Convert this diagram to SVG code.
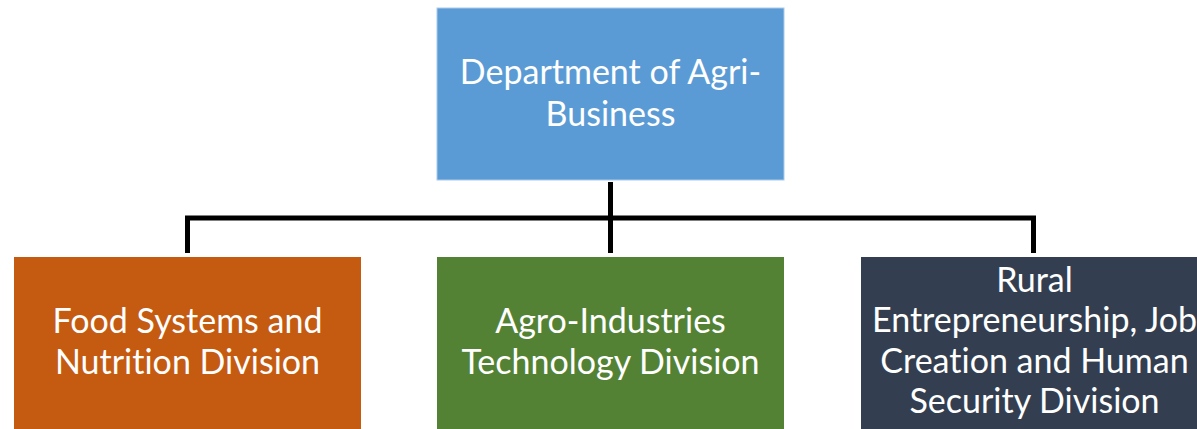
<svg xmlns="http://www.w3.org/2000/svg" width="1197" height="429" viewBox="0 0 1197 429">
<style>
.lbl{font-family:Lato,"Open Sans",sans-serif;font-size:34px;fill:#fff;text-anchor:middle;font-variant-ligatures:none}
.conn{stroke:#000;stroke-width:5;fill:none}
</style>
<rect width="1197" height="429" fill="#fff"/>
<g id="connectors">
<path class="conn" d="M610.5 182V253M187.5 253V218H1033.5V253"/>
</g>
<g id="dept">
<rect x="437" y="8" width="347" height="172" fill="#5B9BD5" stroke="#a9c9ea" stroke-width="1"/>
<text class="lbl" x="610.5" y="84">Department of Agri-</text>
<text class="lbl" x="610.5" y="126">Business</text>
</g>
<g id="food">
<rect x="14" y="257" width="347" height="180" fill="#C55A11"/>
<text class="lbl" x="187.5" y="333">Food Systems and</text>
<text class="lbl" x="187.5" y="374">Nutrition Division</text>
</g>
<g id="agro">
<rect x="437" y="257" width="347" height="180" fill="#548235"/>
<text class="lbl" x="610.5" y="333">Agro-Industries</text>
<text class="lbl" x="610.5" y="374">Technology Division</text>
</g>
<g id="rural">
<rect x="861" y="257" width="347" height="180" fill="#333F50"/>
<text class="lbl" x="1034.5" y="292">Rural</text>
<text class="lbl" x="1034.5" y="332">Entrepreneurship, Job</text>
<text class="lbl" x="1034.5" y="373">Creation and Human</text>
<text class="lbl" x="1034.5" y="413">Security Division</text>
</g>
</svg>
